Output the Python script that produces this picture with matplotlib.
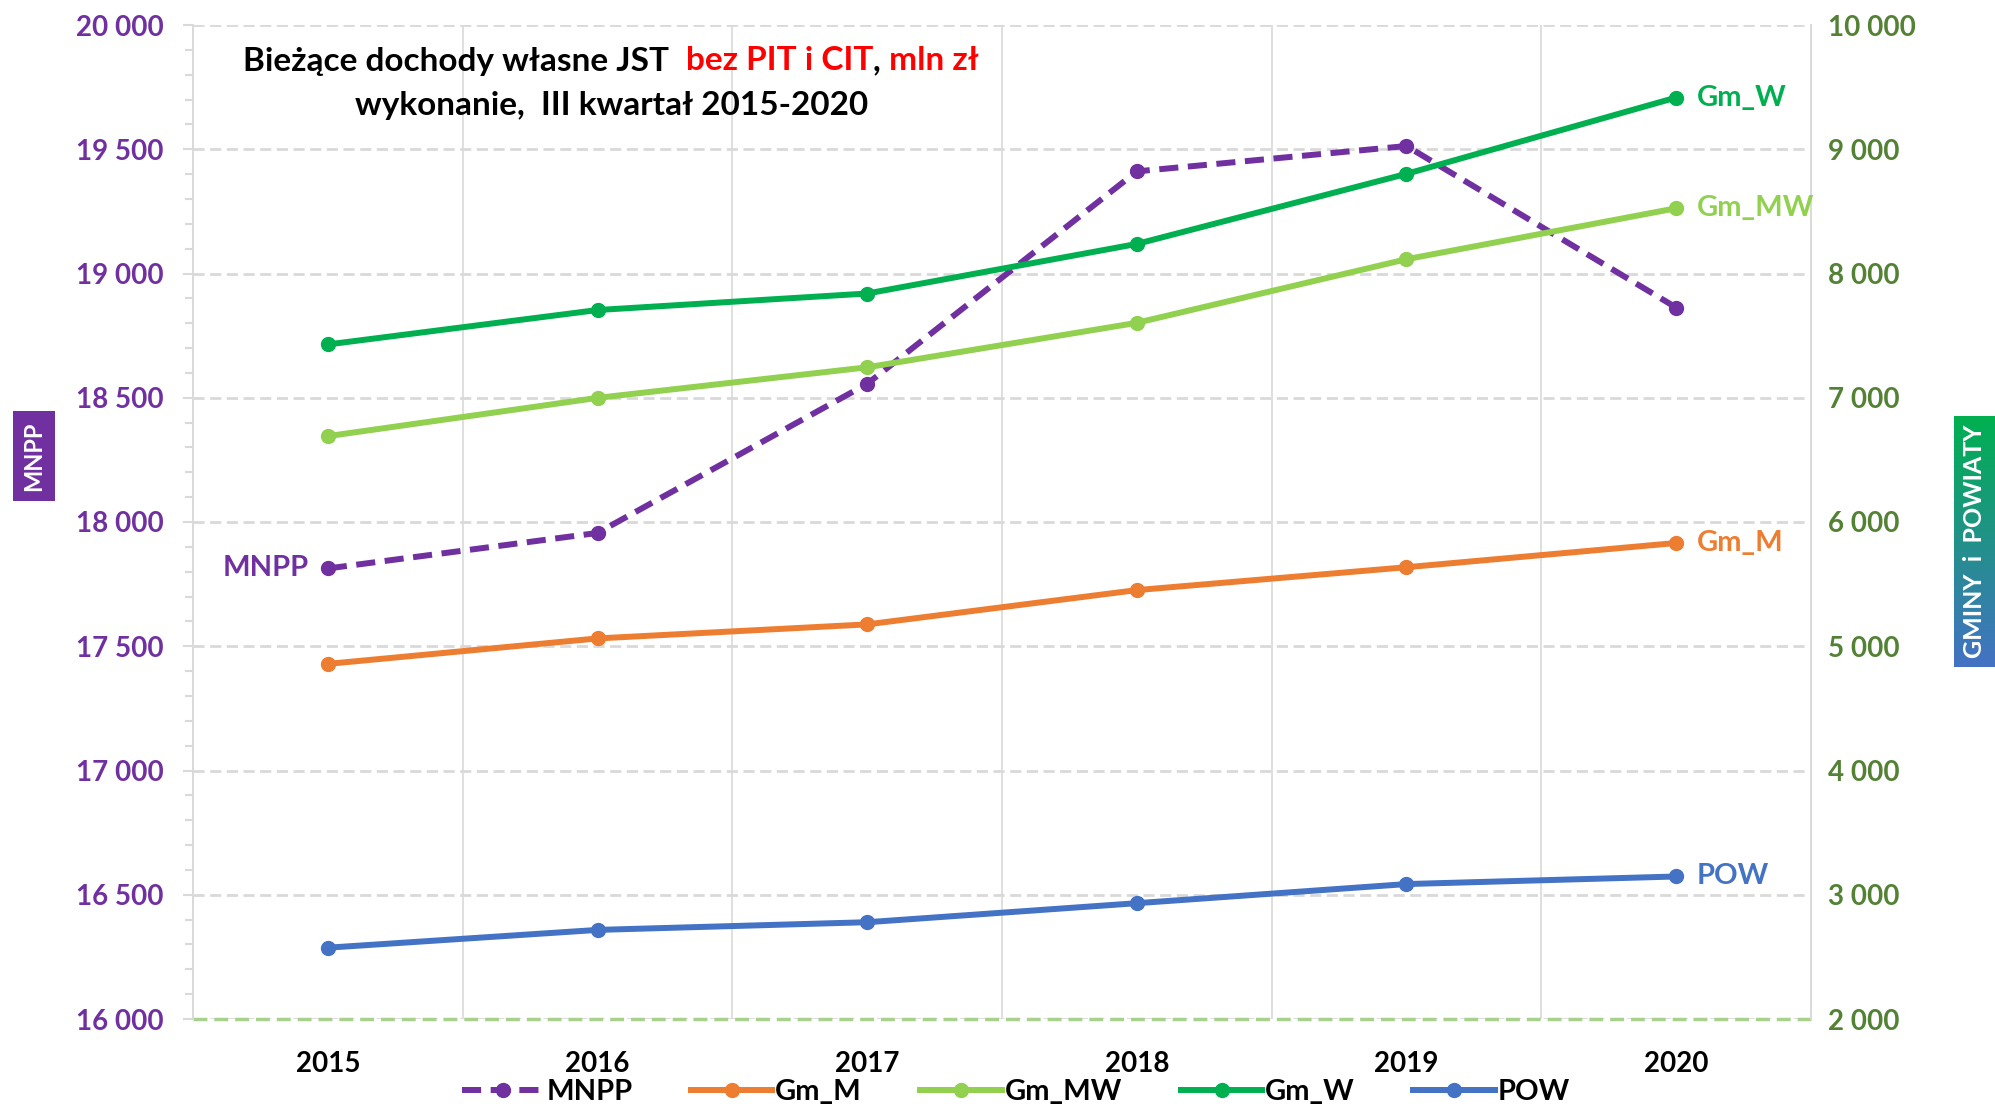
import numpy as np
import matplotlib
matplotlib.use("Agg")
import matplotlib.pyplot as plt
from matplotlib.ticker import MultipleLocator, FuncFormatter
from matplotlib.patches import Rectangle
from matplotlib.colors import LinearSegmentedColormap

plt.rcParams['font.family'] = ['Lato', 'DejaVu Sans']
plt.rcParams['font.weight'] = 'bold'

years = ['2015', '2016', '2017', '2018', '2019', '2020']
mnpp = [17813, 17956, 18556, 19411, 19513, 18863]       # left axis
gm_m = [4858, 5063, 5176, 5452, 5636, 5831]             # right axis
gm_mw = [6691, 6999, 7245, 7603, 8115, 8525]
gm_w = [7429, 7706, 7839, 8238, 8802, 9416]
pow_ = [2574, 2717, 2779, 2932, 3086, 3147]

c_mnpp = '#7030A0'
c_m = '#ED7D31'
c_mw = '#92D050'
c_w = '#00B050'
c_pow = '#4472C4'
c_right = '#548235'
grid_c = '#D9D9D9'

W, H = 1995, 1106
fig = plt.figure(figsize=(W / 100, H / 100), dpi=100)
ax = fig.add_axes([193 / W, 1 - 1019 / H, (1811 - 193) / W, (1019 - 25) / H])
ax2 = ax.twinx()

x = np.arange(len(years))
lw = 4.3
ms = 10

l1, = ax.plot(x, mnpp, color=c_mnpp, lw=lw, marker='o', ms=ms, dashes=(3.2, 1.6), label='MNPP')
l2, = ax2.plot(x, gm_m, color=c_m, lw=lw, marker='o', ms=ms, label='Gm_M')
l3, = ax2.plot(x, gm_mw, color=c_mw, lw=lw, marker='o', ms=ms, label='Gm_MW')
l4, = ax2.plot(x, gm_w, color=c_w, lw=lw, marker='o', ms=ms, label='Gm_W')
l5, = ax2.plot(x, pow_, color=c_pow, lw=lw, marker='o', ms=ms, label='POW')

ax.set_xlim(-0.5, 5.5)
ax.set_ylim(16000, 20000)
ax2.set_ylim(2000, 10000)

fmt = FuncFormatter(lambda v, p: f"{v:,.0f}".replace(",", " "))
ax.yaxis.set_major_locator(MultipleLocator(500))
ax.yaxis.set_minor_locator(MultipleLocator(100))
ax.yaxis.set_major_formatter(fmt)
ax2.yaxis.set_major_locator(MultipleLocator(1000))
ax2.yaxis.set_major_formatter(fmt)

fs = 20
ax.set_xticks(x)
ax.set_xticklabels(years)
ax.set_xticks(x[:-1] + 0.5, minor=True)
ax.tick_params(axis='x', which='both', length=0, pad=23, labelsize=fs, labelcolor='black')
ax.tick_params(axis='y', which='major', length=7, color=grid_c, width=1.5, pad=14,
               labelsize=fs, labelcolor=c_mnpp)
ax.tick_params(axis='y', which='minor', length=6, color=grid_c, width=1.5)
ax2.tick_params(axis='y', length=0, pad=12, labelsize=fs, labelcolor=c_right)

ax.grid(axis='y', which='major', color=grid_c, ls=(0, (4, 2)), lw=2)
ax.grid(axis='x', which='minor', color=grid_c, ls='-', lw=1.2)
ax.set_axisbelow(True)
ax.axhline(16000, color='#A9D18E', ls=(0, (4, 2)), lw=2.5, zorder=1, clip_on=False)

for a in (ax, ax2):
    for s in ('top', 'bottom'):
        a.spines[s].set_visible(False)
    a.spines['left'].set_color(grid_c)
    a.spines['right'].set_color(grid_c)
    a.spines['left'].set_linewidth(1.2)
    a.spines['right'].set_linewidth(1.2)

# end labels
lab_kw = dict(fontsize=21, fontweight='bold', va='center')
ax2.annotate('Gm_W', (x[-1], gm_w[-1]), xytext=(15, 0), textcoords='offset points', color=c_w, **lab_kw)
ax2.annotate('Gm_MW', (x[-1], gm_mw[-1]), xytext=(15, 0), textcoords='offset points', color=c_mw, **lab_kw)
ax2.annotate('Gm_M', (x[-1], gm_m[-1]), xytext=(15, 0), textcoords='offset points', color=c_m, **lab_kw)
ax2.annotate('POW', (x[-1], pow_[-1]), xytext=(15, 0), textcoords='offset points', color=c_pow, **lab_kw)
ax.annotate('MNPP', (x[0], mnpp[0]), xytext=(-14, 0), textcoords='offset points', ha='right',
            color=c_mnpp, **lab_kw)

# legend
fig.legend(handles=[l1, l2, l3, l4, l5], loc='center', bbox_to_anchor=(1016 / W, 14 / H),
           ncol=5, frameon=False, fontsize=21, handlelength=2.8, handletextpad=0.1,
           columnspacing=2.0, borderpad=0)

# title with mixed colours
fig.canvas.draw()
r = fig.canvas.get_renderer()
parts = [("Bieżące dochody własne JST  ", 'black'), ("bez PIT i CIT", 'red'),
         (",", 'black'), (" mln zł", 'red')]
tfs = 24
ty1 = 1 - 61 / H
tts = [fig.text(0, ty1, s, color=c, fontsize=tfs, fontweight='bold', va='center', ha='left')
       for s, c in parts]
widths = [t.get_window_extent(r).width for t in tts]
cx = 611
xp = cx - sum(widths) / 2
for t, w in zip(tts, widths):
    t.set_x(xp / W)
    xp += w
fig.text(612 / W, 1 - 106 / H, "wykonanie,  III kwartał 2015-2020", color='black',
         fontsize=tfs, fontweight='bold', ha='center', va='center')

# left axis name box
fig.patches.append(Rectangle((13 / W, 1 - 501 / H), 42 / W, 90 / H, transform=fig.transFigure,
                             facecolor=c_mnpp, edgecolor='none'))
fig.text(34 / W, 1 - 456 / H, 'MNPP', color='white', rotation=90, fontsize=17,
         fontweight='bold', ha='center', va='center')

# right axis name box with gradient
gax = fig.add_axes([1954 / W, 1 - 667 / H, 41 / W, 251 / H])
cmap = LinearSegmentedColormap.from_list('gb', [c_w, c_pow])
gax.imshow(np.linspace(0, 1, 256).reshape(-1, 1), cmap=cmap, aspect='auto', extent=(0, 1, 0, 1))
gax.axis('off')
gax.text(0.5, 0.5, 'GMINY  i  POWIATY', color='white', rotation=90, fontsize=18,
         fontweight='bold', ha='center', va='center', transform=gax.transAxes)

fig.savefig('out.png', dpi=100)
